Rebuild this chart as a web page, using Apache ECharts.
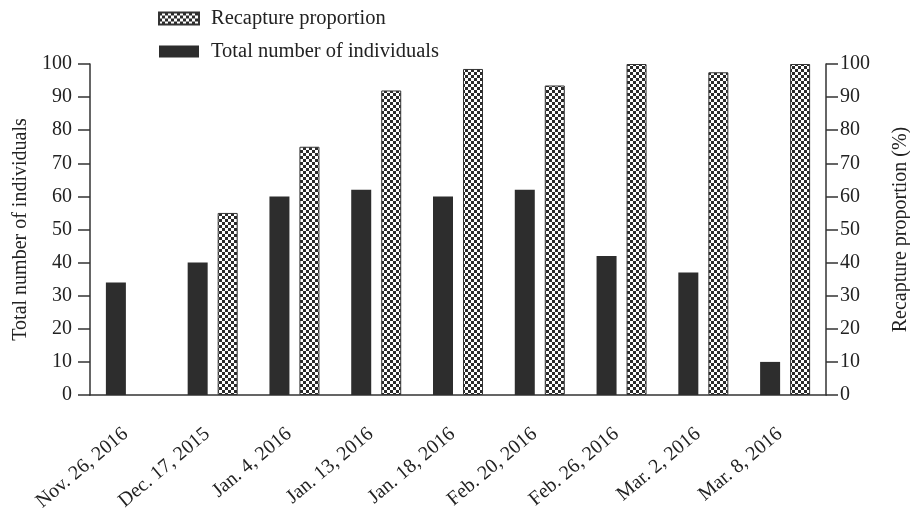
<!DOCTYPE html>
<html>
<head>
<meta charset="utf-8">
<script src="https://cdn.jsdelivr.net/npm/echarts@6/dist/echarts.min.js"></script>
</head>
<body style="margin:0">
<div id="recapture" style="width: 910px;height: 519px;"></div>
<script>
const categories = ['Nov. 26, 2016', 'Dec. 17, 2015', 'Jan. 4, 2016', 'Jan. 13, 2016', 'Jan. 18, 2016',
  'Feb. 20, 2016', 'Feb. 26, 2016', 'Mar. 2, 2016', 'Mar. 8, 2016'];
const totalIndividuals = [34, 40, 60, 62, 60, 62, 42, 37, 10];
// no recapture bar drawn on the first date
const recaptureProportion = [null, 55, 75, 92, 98.5, 93.5, 100, 97.5, 100];
const yTicks = {min: 0, max: 100, interval: 10};

// checkerboard fill for the recapture bars
function checker() {
  let c = document.createElement('canvas');
  c.width = 6;
  c.height = 6;
  let ctx = c.getContext('2d');
  ctx.fillStyle = '#ffffff';
  ctx.fillRect(0, 0, 6, 6);
  ctx.fillStyle = '#2b2b2b';
  ctx.fillRect(0, 0, 3, 3);
  ctx.fillRect(3, 3, 3, 3);
  return c;
}

const font = 'Liberation Serif';
const axisColor = '#333333';
const textColor = '#222222';

let option = {
  textStyle: {fontFamily: font},
  legend: {
    orient: 'vertical',
    left: 153,
    top: 3,
    itemWidth: 40,
    itemHeight: 12,
    itemGap: 12,
    icon: 'rect',
    data: ['Recapture proportion', 'Total number of individuals'],
    textStyle: {fontFamily: font, fontSize: 20.5, color: textColor, padding: [0, 0, 0, 7]}
  },
  grid: {left: 90, right: 84, top: 64, bottom: 124, outerBoundsMode: 'none'},
  xAxis: {
    type: 'category',
    data: categories,
    axisLine: {lineStyle: {color: axisColor, width: 1.5}},
    axisTick: {alignWithLabel: true, length: 10, lineStyle: {color: axisColor, width: 1.5}},
    axisLabel: {rotate: 40, fontSize: 20, color: textColor, fontFamily: font, margin: 32, padding: [0, 7, 0, 0]}
  },
  yAxis: [
    {
      type: 'value',
      min: yTicks.min, max: yTicks.max, interval: yTicks.interval,
      name: 'Total number of individuals',
      nameLocation: 'middle',
      nameGap: 55,
      nameTextStyle: {fontSize: 20, color: textColor, fontFamily: font},
      splitLine: {show: false},
      axisLine: {show: true, lineStyle: {color: axisColor, width: 1.5}},
      axisTick: {show: true, length: 12, lineStyle: {color: axisColor, width: 1.5}},
      axisLabel: {fontSize: 20, color: textColor, fontFamily: font, margin: 18}
    },
    {
      type: 'value',
      min: yTicks.min, max: yTicks.max, interval: yTicks.interval,
      name: 'Recapture proportion (%)',
      nameLocation: 'middle',
      nameGap: 65,
      nameTextStyle: {fontSize: 20, color: textColor, fontFamily: font},
      splitLine: {show: false},
      axisLine: {show: true, lineStyle: {color: axisColor, width: 1.5}},
      axisTick: {show: true, length: 12, lineStyle: {color: axisColor, width: 1.5}},
      axisLabel: {fontSize: 20, color: textColor, fontFamily: font, margin: 14}
    }
  ],
  series: [
    {
      name: 'Total number of individuals',
      type: 'bar',
      data: totalIndividuals,
      barWidth: 20,
      barGap: '50%',
      itemStyle: {color: '#2d2d2d'}
    },
    {
      name: 'Recapture proportion',
      type: 'bar',
      yAxisIndex: 1,
      data: recaptureProportion,
      barWidth: 20,
      itemStyle: {
        color: {image: checker(), repeat: 'repeat'},
        borderColor: '#333',
        borderWidth: 1
      }
    }
  ]
};

let chart = echarts.init(document.getElementById('recapture'), null, {renderer: 'canvas'});
chart.setOption(option);
</script>
</body>
</html>
